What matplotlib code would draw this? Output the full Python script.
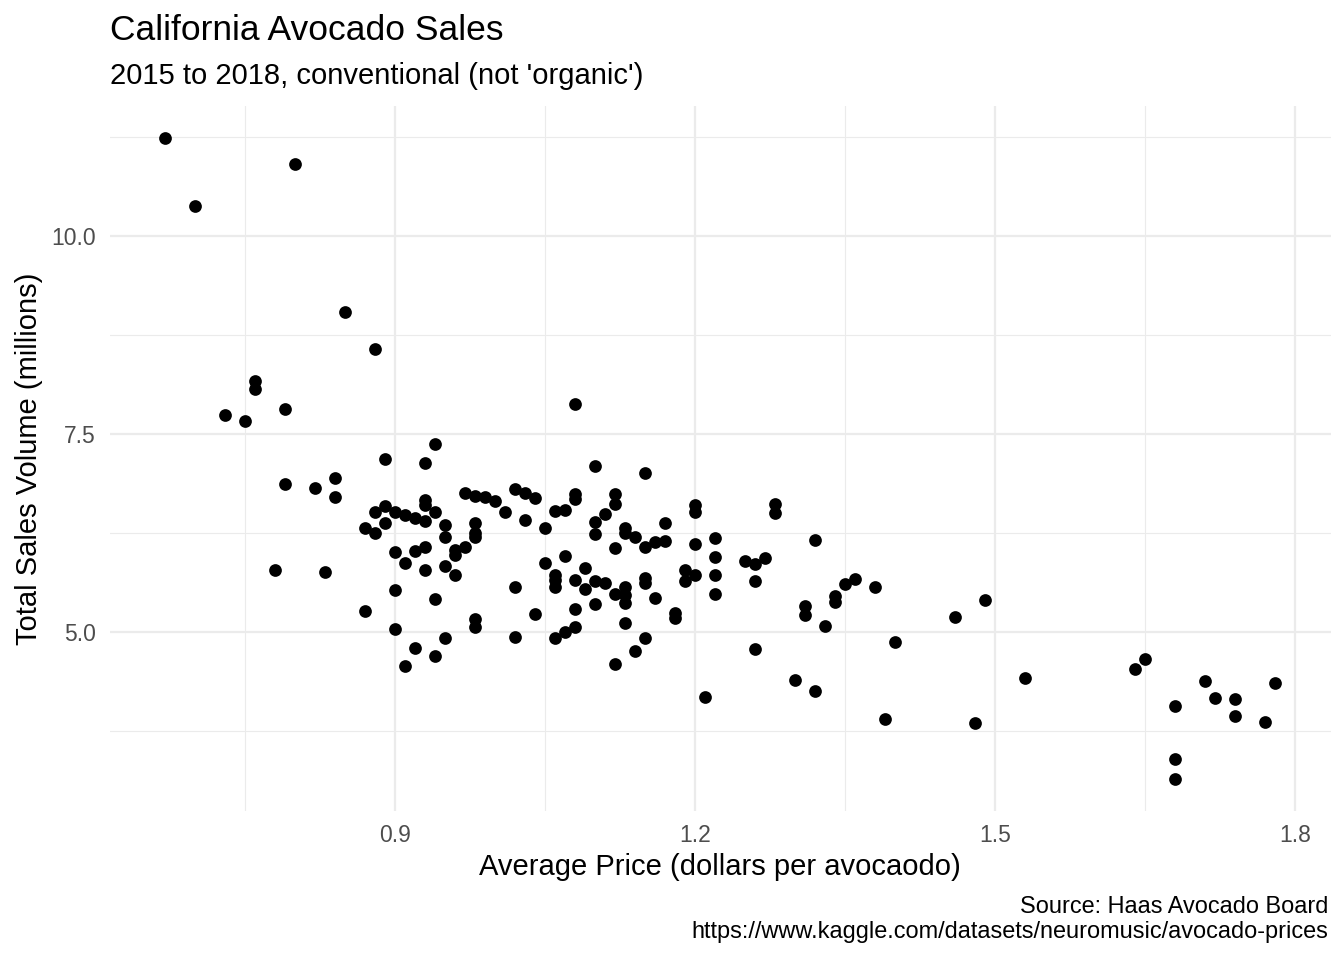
import matplotlib
matplotlib.use("Agg")
import matplotlib.pyplot as plt
from matplotlib.ticker import FixedLocator
import numpy as np

# Average price (dollars per avocado)
price = [
    0.67, 0.70, 0.80, 0.85, 0.88, 0.76, 0.76, 0.73, 0.75, 0.79, 0.79, 0.82, 0.84, 0.84, 0.78, 0.83,
    0.89, 0.94, 0.93, 0.97, 0.98, 0.99, 1.00, 1.01, 1.02, 1.03, 1.04, 1.03,
    0.88, 0.89, 0.89, 0.87, 0.88, 0.90, 0.91, 0.92, 0.93, 0.93, 0.93, 0.94, 0.95, 0.95,
    0.98, 0.98, 0.98, 0.97, 0.96, 0.96, 0.96, 0.95, 0.93, 0.92, 0.90, 0.91, 0.93,
    0.90, 0.94, 0.87, 0.90, 0.92, 0.91, 0.94, 0.95, 0.98, 0.98, 1.02, 1.02, 1.04,
    1.05, 1.06, 1.07, 1.08, 1.08, 1.10, 1.12, 1.12, 1.11, 1.10, 1.10, 1.15, 1.13, 1.13,
    1.14, 1.15, 1.16, 1.17, 1.17, 1.12, 1.20, 1.20, 1.20, 1.05, 1.07, 1.06, 1.09, 1.08,
    1.06, 1.06, 1.10, 1.09, 1.11, 1.12, 1.13, 1.13, 1.13, 1.15, 1.15, 1.16, 1.19, 1.19,
    1.20, 1.08, 1.10, 1.13, 1.18, 1.18, 1.06, 1.07, 1.08, 1.15, 1.14, 1.12, 1.08,
    1.28, 1.28, 1.22, 1.22, 1.22, 1.22, 1.25, 1.26, 1.27, 1.26, 1.32, 1.35, 1.36, 1.38,
    1.34, 1.34, 1.31, 1.31, 1.33, 1.40, 1.26, 1.30, 1.32, 1.21,
    1.46, 1.49, 1.39, 1.48, 1.53, 1.64, 1.65, 1.71, 1.78, 1.68, 1.72, 1.74, 1.74, 1.77,
    1.68, 1.68,
]

# Total sales volume (millions)
volume = [
    11.24, 10.38, 10.91, 9.04, 8.57, 8.17, 8.07, 7.74, 7.66, 7.82, 6.87, 6.82, 6.94, 6.70, 5.78, 5.76,
    7.18, 7.37, 7.13, 6.76, 6.72, 6.70, 6.65, 6.52, 6.81, 6.76, 6.69, 6.41,
    6.52, 6.59, 6.38, 6.31, 6.25, 6.52, 6.48, 6.44, 6.67, 6.60, 6.40, 6.52, 6.35, 6.20,
    6.38, 6.25, 6.20, 6.07, 6.04, 5.97, 5.72, 5.83, 6.07, 6.02, 6.01, 5.87, 5.78,
    5.53, 5.42, 5.27, 5.04, 4.80, 4.57, 4.70, 4.92, 5.16, 5.06, 5.57, 4.94, 5.23,
    6.31, 6.53, 6.54, 6.74, 6.68, 7.10, 6.74, 6.62, 6.49, 6.39, 6.24, 7.01, 6.31, 6.25,
    6.20, 6.07, 6.14, 6.15, 6.38, 6.06, 6.60, 6.52, 6.11, 5.87, 5.96, 5.72, 5.81, 5.66,
    5.66, 5.57, 5.64, 5.54, 5.62, 5.48, 5.57, 5.47, 5.37, 5.68, 5.62, 5.43, 5.78, 5.64,
    5.72, 5.29, 5.35, 5.11, 5.24, 5.18, 4.92, 5.00, 5.06, 4.92, 4.76, 4.60, 7.88,
    6.62, 6.50, 6.19, 5.95, 5.72, 5.48, 5.90, 5.86, 5.93, 5.64, 6.16, 5.61, 5.67, 5.57,
    5.45, 5.38, 5.33, 5.21, 5.08, 4.87, 4.79, 4.39, 4.26, 4.18,
    5.19, 5.40, 3.90, 3.85, 4.42, 4.53, 4.66, 4.38, 4.36, 4.07, 4.17, 4.15, 3.94, 3.86,
    3.40, 3.14,
]

x_major = [0.9, 1.2, 1.5, 1.8]
x_minor = [0.75, 1.05, 1.35, 1.65]
y_major = [5.0, 7.5, 10.0]
y_minor = [3.75, 6.25, 8.75, 11.25]

title = "California Avocado Sales"
subtitle = "2015 to 2018, conventional (not 'organic')"
xlabel = "Average Price (dollars per avocaodo)"
ylabel = "Total Sales Volume (millions)"
caption = ["Source: Haas Avocado Board",
           "https://www.kaggle.com/datasets/neuromusic/avocado-prices"]

FONT = ["Liberation Sans", "DejaVu Sans"]
plt.rcParams["font.family"] = FONT

W, H = 1344, 960
fig = plt.figure(figsize=(W / 100, H / 100), dpi=100)
fig.patch.set_facecolor("white")

def fx(px):
    return px / W

def fy(py):
    return 1 - py / H

left, right, top, bottom = 109.5, 1330.5, 105.7, 811.4
ax = fig.add_axes([fx(left), fy(bottom), fx(right) - fx(left), fy(top) - fy(bottom)])

ax.scatter(price, volume, s=84, color="black", linewidths=0, zorder=3)

xr = max(price) - min(price)
yr = max(volume) - min(volume)
ax.set_xlim(min(price) - 0.05 * xr, max(price) + 0.05 * xr)
ax.set_ylim(min(volume) - 0.05 * yr, max(volume) + 0.05 * yr)

ax.xaxis.set_major_locator(FixedLocator(x_major))
ax.xaxis.set_minor_locator(FixedLocator(x_minor))
ax.yaxis.set_major_locator(FixedLocator(y_major))
ax.yaxis.set_minor_locator(FixedLocator(y_minor))
ax.set_xticklabels([f"{v:.1f}" for v in x_major])
ax.set_yticklabels([f"{v:.1f}" for v in y_major])

ax.grid(which="major", color="#EBEBEB", linewidth=1.6, zorder=0)
ax.grid(which="minor", color="#EBEBEB", linewidth=0.8, zorder=0)
ax.set_axisbelow(True)
for s in ax.spines.values():
    s.set_visible(False)
ax.tick_params(which="both", length=0)
ax.tick_params(axis="x", labelsize=16.5, labelcolor="#4D4D4D", pad=9)
ax.tick_params(axis="y", labelsize=16.5, labelcolor="#4D4D4D", pad=10)
ax.set_facecolor("white")

fig.text(fx(110), fy(40), title, fontsize=25.5, ha="left", va="baseline", color="black")
fig.text(fx(110), fy(84), subtitle, fontsize=21, ha="left", va="baseline", color="black")
fig.text(fx((left + right) / 2), fy(875), xlabel, fontsize=21, ha="center", va="baseline")
fig.text(fx(37), fy((top + bottom) / 2), ylabel, fontsize=21, ha="center", va="baseline",
         rotation=90, rotation_mode="anchor")
fig.text(fx(1328), fy(913), caption[0], fontsize=16.95, ha="right", va="baseline")
fig.text(fx(1328), fy(938), caption[1], fontsize=16.95, ha="right", va="baseline")

fig.savefig("out.png", dpi=100, facecolor="white")
